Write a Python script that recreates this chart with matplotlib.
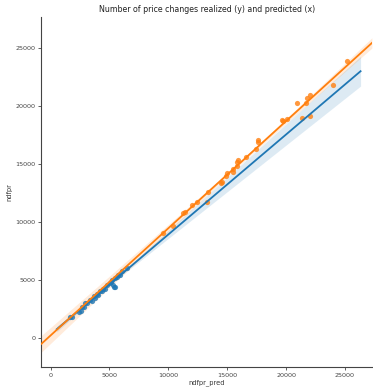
import numpy as np
import matplotlib
matplotlib.use("Agg")
import matplotlib.pyplot as plt

# predicted (x) / realized (y) counts, two groups
blue_x = [1650, 1800, 2450, 2560, 2650, 2800, 2950, 3070, 3350, 3500, 3650,
          3800, 3920, 4050, 4200, 4350, 4480, 4630, 4750, 5050, 5140, 5200,
          5330, 5480, 5620, 5760, 5900, 6040, 6500, 5350, 5500]
blue_y = [1836, 1863, 2318, 2362, 2738, 2666, 3044, 3047, 3336, 3214, 3641,
          3519, 3822, 3783, 4111, 4089, 4300, 4227, 4580, 4736, 4862, 5014,
          4624, 5202, 5272, 5491, 5461, 5780, 6072, 4392, 4470]

orange_x = [9580, 10430, 11280, 11420, 12040, 12460, 13260, 13400, 14450,
            14530, 14900, 14960, 15470, 15470, 15810, 15810, 15950, 16600,
            17450, 17600, 17640, 19630, 19740, 20100, 20900, 21330, 21690,
            21750, 22030, 22030, 24010, 25150]
orange_y = [9050, 9680, 10780, 10860, 11490, 11780, 11780, 12590, 13360,
            13500, 13990, 14220, 14360, 14570, 14850, 15220, 15370, 15650,
            16350, 17090, 16950, 18820, 18760, 18900, 20260, 19020, 20260,
            20690, 20970, 19160, 21830, 23930]

x_ticks = [0, 5000, 10000, 15000, 20000, 25000]
y_ticks = [0, 5000, 10000, 15000, 20000, 25000]


def fit_with_ci(x, y, grid, t=2.04):
    x = np.asarray(x, float)
    y = np.asarray(y, float)
    b, a = np.polyfit(x, y, 1)
    resid = y - (a + b * x)
    n = len(x)
    s = np.sqrt(np.sum(resid ** 2) / (n - 2))
    sxx = np.sum((x - x.mean()) ** 2)
    yhat = a + b * grid
    half = t * s * np.sqrt(1.0 / n + (grid - x.mean()) ** 2 / sxx)
    return yhat, yhat - half, yhat + half


fig = plt.figure(figsize=(3.73, 3.89), dpi=100)
ax = fig.add_axes([0.111, 0.057, 0.886, 0.899])
ax.set_xlim(-780, 27290)
ax.set_ylim(-2450, 27700)

groups = [
    (blue_x, blue_y, "#1f77b4", (525, 26330)),
    (orange_x, orange_y, "#ff7f0e", (-780, 27290)),
]
for gx, gy, col, (lo, hi) in groups:
    grid = np.linspace(lo, hi, 100)
    yhat, ci_lo, ci_hi = fit_with_ci(gx, gy, grid)
    ax.scatter(gx, gy, s=14, color=col, alpha=0.8, linewidths=0, zorder=3)
    ax.plot(grid, yhat, color=col, lw=1.3, zorder=4)
    ax.fill_between(grid, ci_lo, ci_hi, color=col, alpha=0.15, lw=0, zorder=2)

ax.set_xticks(x_ticks)
ax.set_yticks(y_ticks)
ax.tick_params(labelsize=4.6, colors="#444444", length=2.5, width=0.6, pad=2)
for side in ("top", "right"):
    ax.spines[side].set_visible(False)
for side in ("left", "bottom"):
    ax.spines[side].set_color("#444444")
    ax.spines[side].set_linewidth(0.8)

ax.set_xlabel("ndfpr_pred", fontsize=4.8, color="#333333", labelpad=1)
ax.set_ylabel("ndfpr", fontsize=4.8, color="#333333")
ax.yaxis.set_label_coords(-0.088, 0.5)
ax.set_title("Number of price changes realized (y) and predicted (x)",
             fontsize=5.7, color="#222222", pad=3.5)

fig.savefig("out.png", dpi=100)
plt.close(fig)
